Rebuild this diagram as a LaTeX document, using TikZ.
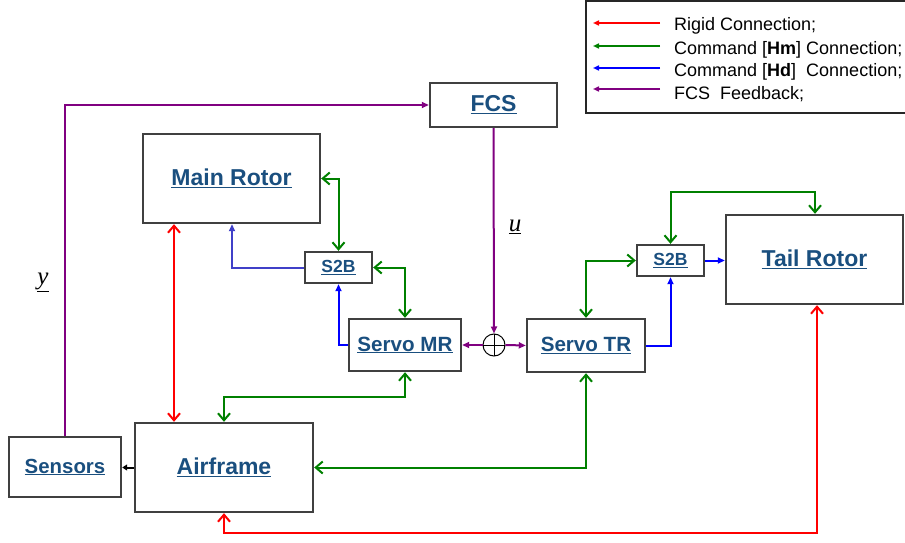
\documentclass[tikz,border=0pt]{standalone}
\usepackage{fontspec}
\setmainfont{Liberation Sans}
\newfontfamily\serifmath{Liberation Serif}
\usetikzlibrary{arrows.meta}
\definecolor{lblue}{RGB}{26,79,127}
\definecolor{rgd}{RGB}{255,0,0}
\definecolor{grn}{RGB}{0,128,0}
\definecolor{blu}{RGB}{0,0,255}
\definecolor{blutwo}{RGB}{64,64,200}
\definecolor{pur}{RGB}{128,0,128}
\definecolor{bord}{RGB}{64,64,64}
\begin{document}
\begin{tikzpicture}[x=1pt,y=-1pt,
  box/.style={draw=bord, line width=2.4pt, inner sep=0pt, fill=white, text=lblue},
  bigf/.style={font=\bfseries\fontsize{23}{27}\selectfont},
  midf/.style={font=\bfseries\fontsize{20.6}{24}\selectfont},
  smallf/.style={font=\bfseries\fontsize{17.5}{21}\selectfont},
  barb/.tip={Straight Barb[length=7pt,width=12pt]},
  tri/.tip={Triangle[length=7pt,width=6pt]},
  rigid/.style={draw=rgd, line width=2pt, barb-barb},
  hm/.style={draw=grn, line width=2pt, barb-barb},
  hd/.style={draw=blu, line width=2pt, -tri},
  fb/.style={draw=pur, line width=2pt, -tri},
  legtxt/.style={anchor=west, inner sep=0pt, font=\fontsize{18}{21}\selectfont}
]
\useasboundingbox (0,0) rectangle (905,543);

% legend
\draw[line width=1.2pt, draw=black!85] (586,1) rectangle (912,113);
\coordinate (l1a) at (660,23); \coordinate (l1b) at (593,23);
\coordinate (l2a) at (660,46); \coordinate (l2b) at (593,46);
\coordinate (l3a) at (660,68); \coordinate (l3b) at (593,68);
\coordinate (l4a) at (660,89); \coordinate (l4b) at (593,89);
\draw[draw=rgd, line width=1.8pt, -{Triangle[length=6pt,width=5pt]}] (l1a) -- (l1b);
\draw[draw=grn, line width=1.8pt, -{Triangle[length=6pt,width=5pt]}] (l2a) -- (l2b);
\draw[draw=blu, line width=1.8pt, -{Triangle[length=6pt,width=5pt]}] (l3a) -- (l3b);
\draw[draw=pur, line width=1.8pt, -{Triangle[length=6pt,width=5pt]}] (l4a) -- (l4b);
\node[legtxt] (t1) at (674,26) {Rigid Connection;};
\node[legtxt] (t2) at (674,50) {Command [\textbf{Hm}] Connection;};
\node[legtxt] (t3) at (674,72) {Command [\textbf{Hd}]\ \ Connection;};
\node[legtxt] (t4) at (674,94) {FCS\ \ Feedback;};

% boxes
\node[box, bigf, minimum width=127pt, minimum height=44pt] (FCS) at (493.5,105) {\underline{FCS}};
\node[box, bigf, minimum width=177pt, minimum height=89pt] (MR) at (231.5,178.5) {\underline{Main Rotor}};
\node[box, smallf, minimum width=67pt, minimum height=31pt] (S2BL) at (338.5,267.5) {\underline{S2B}};
\node[box, midf, minimum width=112pt, minimum height=52pt] (SMR) at (405,345) {\underline{Servo MR}};
\node[box, midf, minimum width=118pt, minimum height=53pt] (STR) at (586,345.5) {\underline{Servo TR}};
\node[box, smallf, minimum width=67pt, minimum height=31pt] (S2BR) at (670.5,260.5) {\underline{S2B}};
\node[box, bigf, minimum width=177pt, minimum height=89pt] (TR) at (814.5,259.5) {\underline{Tail Rotor}};
\node[box, bigf, minimum width=178pt, minimum height=89pt] (AF) at (224,467.5) {\underline{Airframe}};
\node[box, font=\bfseries\fontsize{20.4}{24}\selectfont, minimum width=112pt, minimum height=60pt] (SEN) at (65,467) {\underline{Sensors}};

% summing junction
\node[circle, draw=black, line width=1pt, minimum size=22pt, inner sep=0pt,
  path picture={\draw[line width=1pt] (path picture bounding box.north) -- (path picture bounding box.south)
   (path picture bounding box.west) -- (path picture bounding box.east);}] (SUM) at (494,345) {};

% labels
\node[font=\serifmath\itshape\fontsize{25}{28}\selectfont, inner sep=0pt] (ulab) at (515,227) {\underline{u}};
\node[font=\serifmath\itshape\fontsize{25}{28}\selectfont, inner sep=0pt] (ylab) at (43,282) {\underline{y}};

% rigid connections
\draw[rigid] (174,0 |- MR.south) -- (174,0 |- AF.north);
\coordinate (r1) at (817,533);
\draw[rigid] (AF.south) |- (r1) -- (817,0 |- TR.south);

% Hm connections
\draw[hm] (MR.east) -| (S2BL.north);
\draw[hm] (S2BL.east) -| (SMR.north);
\coordinate (g11) at (405,397);
\draw[hm] (AF.north) |- (g11) -- (SMR.south);
\draw[hm] (AF.east) -| (STR.south);
\draw[hm] (STR.north) |- (S2BR.west);
\coordinate (g16) at (815,192);
\draw[hm] (S2BR.north) |- (g16) -- (815,0 |- TR.north);

% Hd connections
\draw[hd, draw=blutwo] (S2BL.west) -| (232,0 |- MR.south);
\draw[hd] (SMR.west) -| (S2BL.south);
\draw[hd] (STR.east) -| (S2BR.south);
\draw[hd] (S2BR.east) -- (S2BR.east -| TR.west);

% FCS feedback
\draw[fb] (SEN.north) |- (FCS.west);
\draw[fb] (FCS.south) -- (SUM.north);
\draw[fb] (SUM.west) -- (SMR.east);
\draw[fb] (SUM.east) -- (STR.west);

% sensors link
\draw[draw=black, line width=2pt, -{Triangle[length=5pt,width=6pt]}] (AF.west) -- (AF.west -| SEN.east);
\end{tikzpicture}
\end{document}
